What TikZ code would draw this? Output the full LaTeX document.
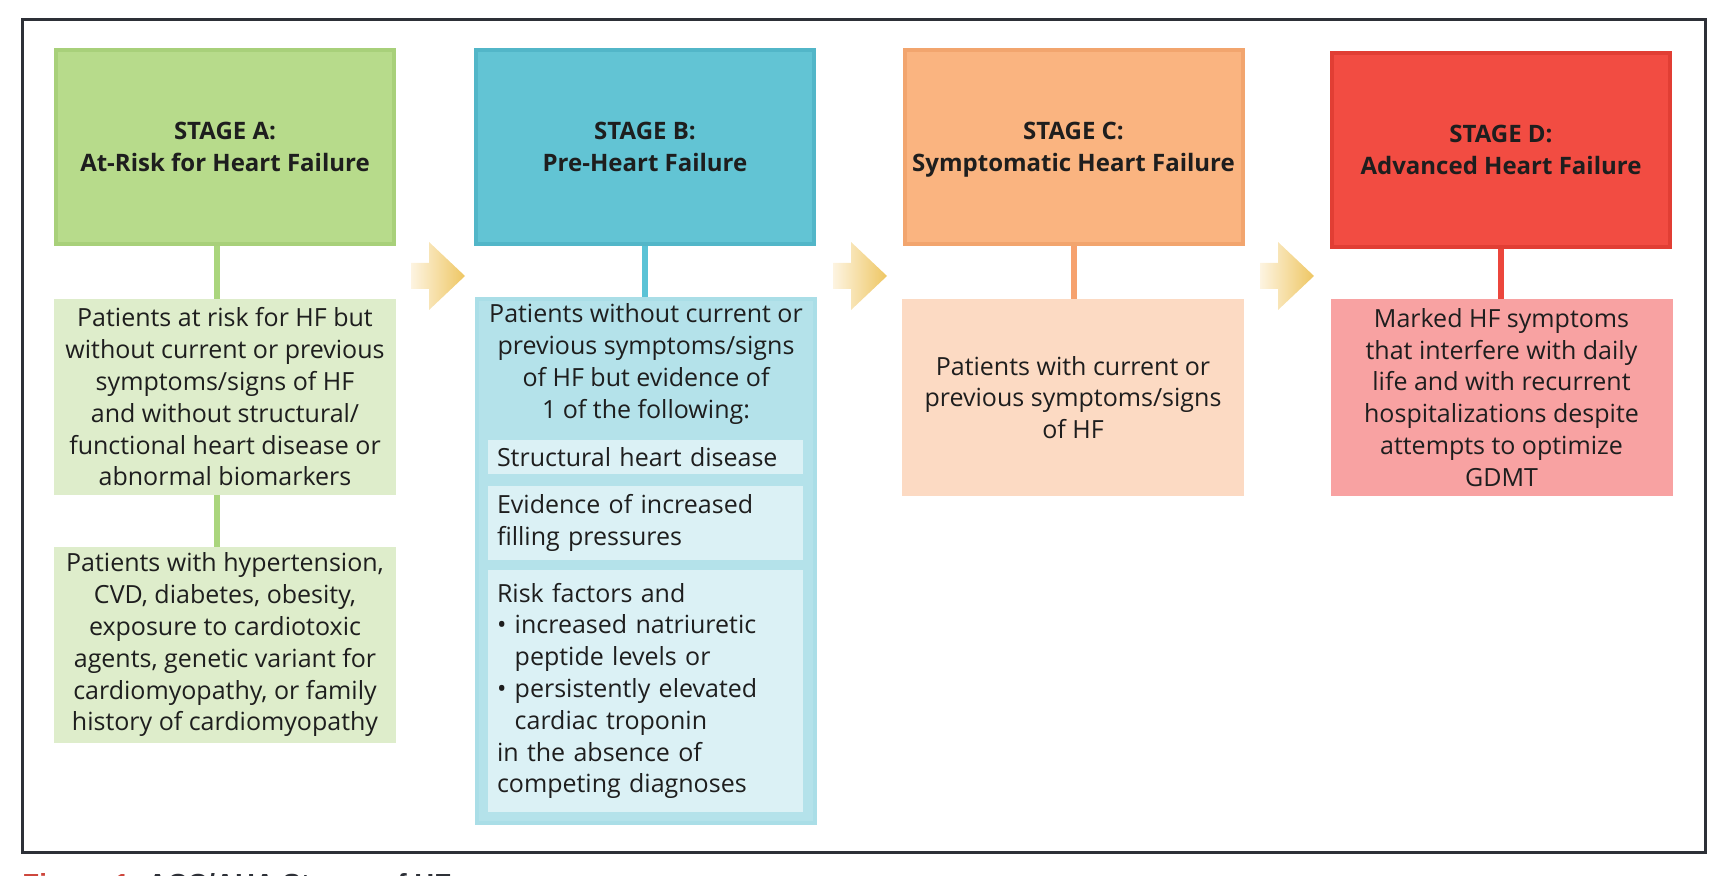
\documentclass[tikz,border=0pt]{standalone}
\usepackage{fontspec}
\setmainfont{Open Sans}
\newfontfamily\captionfont{Liberation Sans}
\usepackage{xcolor}
\usepackage{tikz}
\usetikzlibrary{positioning}

\definecolor{textdark}{RGB}{30,30,30}
\definecolor{framegray}{RGB}{45,48,55}
\definecolor{stageA}{RGB}{183,219,139}
\definecolor{stageAedge}{RGB}{168,208,122}
\definecolor{stageAlight}{RGB}{222,237,203}
\definecolor{stageAline}{RGB}{170,213,125}
\definecolor{stageB}{RGB}{98,196,212}
\definecolor{stageBedge}{RGB}{82,182,200}
\definecolor{stageBlight}{RGB}{180,226,234}
\definecolor{stageBpale}{RGB}{219,241,245}
\definecolor{stageBline}{RGB}{90,195,214}
\definecolor{stageC}{RGB}{250,180,128}
\definecolor{stageCedge}{RGB}{242,165,110}
\definecolor{stageClight}{RGB}{252,218,195}
\definecolor{stageCline}{RGB}{246,162,110}
\definecolor{stageD}{RGB}{242,76,66}
\definecolor{stageDedge}{RGB}{225,62,52}
\definecolor{stageDlight}{RGB}{248,162,162}
\definecolor{stageDline}{RGB}{236,70,60}
\definecolor{arrowgold}{RGB}{238,198,98}
\definecolor{arrowpale}{RGB}{253,244,225}
\definecolor{captionred}{RGB}{205,70,60}
\newcommand{\bulitem}{\textbullet\ }
\newcommand{\bulgap}{\phantom{\textbullet\ }}

\begin{document}
\begin{tikzpicture}[
  x=0.5pt,y=-0.5pt,
  header/.style={rectangle,line width=2pt,inner sep=0pt,align=center,
    minimum width=169pt,minimum height=97pt,text=textdark,text depth=0pt,
    font=\bfseries\fontsize{12}{16}\selectfont},
  desc/.style={rectangle,inner sep=0pt,align=center,minimum width=171pt,
    text=textdark,font=\fontsize{12.5}{15.9}\selectfont},
  sub/.style={rectangle,inner sep=0pt,align=left,minimum width=157.5pt,
    text width=148.5pt,fill=stageBpale,text=textdark,
    font=\fontsize{12.5}{15.9}\selectfont},
  link/.style={line width=3pt},
  frame/.style={draw=framegray,line width=1.5pt}
]
\useasboundingbox (0,0) rectangle (1718,876);
\draw[frame] (22,20) rectangle (1705,852);
% stage headers
\node[header,fill=stageA,draw=stageAedge] (headA) at (225,147) {STAGE A:\\At-Risk for Heart Failure};
\node[header,fill=stageB,draw=stageBedge] (headB) at (645,147) {STAGE B:\\Pre-Heart Failure};
\node[header,fill=stageC,draw=stageCedge] (headC) at (1073.5,147) {STAGE C:\\Symptomatic Heart Failure};
\node[header,fill=stageD,draw=stageDedge] (headD) at (1501,150) {STAGE D:\\Advanced Heart Failure};
% descriptions
\node[desc,fill=stageAlight,minimum height=98pt] (descA) at (225,397)
  {Patients at risk for HF but\\without current or previous\\symptoms/signs of HF\\and without structural/\\functional heart disease or\\abnormal biomarkers};
\node[desc,fill=stageAlight,minimum height=98pt] (riskA) at (225,645)
  {Patients with hypertension,\\CVD, diabetes, obesity,\\exposure to cardiotoxic\\agents, genetic variant for\\cardiomyopathy, or family\\history of cardiomyopathy};
\node[desc,fill=stageBlight,draw=stageBlight!88!stageB,line width=2pt,
  minimum width=169pt,minimum height=262pt] (descB) at (646,561) {};
\node[desc] (introB) at (646,364)
  {Patients without current or\\previous symptoms/signs\\of HF but evidence of\\1 of the following:};
\node[sub,minimum height=17pt] (structB) at (645.5,457) {Structural heart disease};
\node[sub,minimum height=37pt] (fillB) at (645.5,523) {Evidence of increased\\filling pressures};
\node[sub,minimum height=121pt] (markerB) at (645.5,691)
  {Risk factors and\\\bulitem increased natriuretic\\\bulgap peptide levels or\\\bulitem persistently elevated\\\bulgap cardiac troponin\\in the absence of\\competing diagnoses};
\node[desc,fill=stageClight,minimum height=98.5pt] (descC) at (1073,397.5)
  {Patients with current or\\previous symptoms/signs\\of HF};
\node[desc,fill=stageDlight,minimum height=98.5pt] (descD) at (1501.5,397.5)
  {Marked HF symptoms\\that interfere with daily\\life and with recurrent\\hospitalizations despite\\attempts to optimize\\GDMT};
% connectors
\draw[link,draw=stageAline] ([xshift=-4pt]headA.south) -- ([xshift=-4pt]descA.north);
\draw[link,draw=stageAline] ([xshift=-4pt]descA.south) -- ([xshift=-4pt]riskA.north);
\draw[link,draw=stageBline] (headB.south) -- (headB.south |- descB.north);
\draw[link,draw=stageCline] (headC.south) -- (headC.south |- descC.north);
\draw[link,draw=stageDline] (headD.south) -- (headD.south |- descD.north);
% progression arrows
\foreach \ax in {411,833,1260}
  \shade[left color=arrowpale,right color=arrowgold] (\ax,263) -- ++(18,0) -- ++(0,-21)
    -- ++(36,34) -- ++(-36,34) -- ++(0,-21) -- ++(-18,0) -- cycle;
% caption, cut by the page edge
\node[anchor=base west,inner sep=0pt,text=framegray,
  font=\captionfont\bfseries\fontsize{13.8}{16}\selectfont] (caption) at (22,893)
  {\textcolor{captionred}{Figure 1.} ACC/AHA Stages of HF};
\end{tikzpicture}
\end{document}
